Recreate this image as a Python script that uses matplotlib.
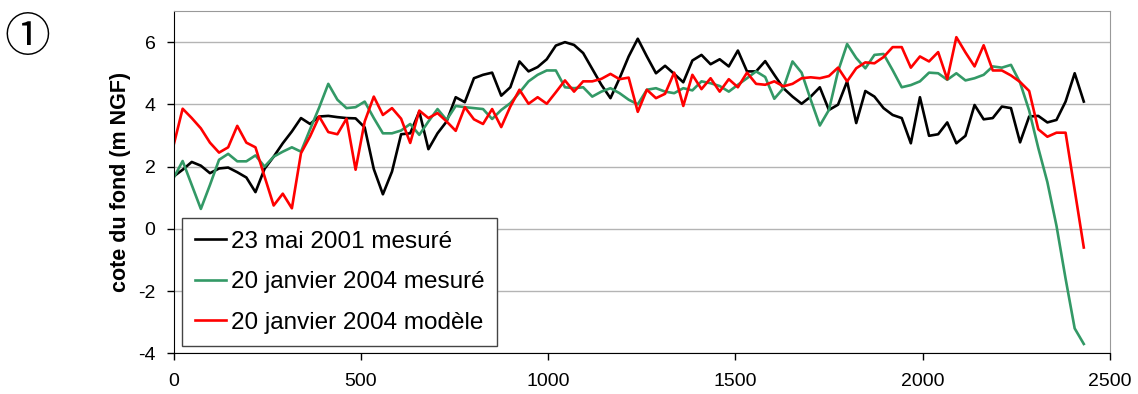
import numpy as np
import matplotlib
matplotlib.use('Agg')
import matplotlib.pyplot as plt

plt.rcParams['font.family'] = ['Liberation Sans', 'DejaVu Sans']
plt.rcParams['axes.unicode_minus'] = False

# distance le long du profil (m), un point tous les ~24 m
distance = np.arange(101) * 24.3

# cote du fond (m NGF)
mai_2001 = [1.68, 1.90, 2.15, 2.03, 1.79, 1.94, 1.97, 1.82, 1.65, 1.18,
            1.93, 2.32, 2.75, 3.13, 3.56, 3.37, 3.61, 3.63, 3.59, 3.56,
            3.55, 3.26, 1.92, 1.11, 1.84, 3.04, 3.07, 3.77, 2.56, 3.07,
            3.45, 4.23, 4.07, 4.84, 4.95, 5.02, 4.28, 4.55, 5.38, 5.06,
            5.20, 5.45, 5.89, 6.00, 5.91, 5.65, 5.14, 4.63, 4.20, 4.84,
            5.54, 6.11, 5.54, 5.00, 5.24, 4.98, 4.71, 5.41, 5.59, 5.29,
            5.45, 5.22, 5.73, 5.06, 5.06, 5.39, 4.95, 4.52, 4.25, 4.02,
            4.25, 4.55, 3.82, 3.99, 4.74, 3.40, 4.43, 4.25, 3.88, 3.66,
            3.56, 2.75, 4.23, 2.99, 3.04, 3.42, 2.75, 2.99, 3.98, 3.52,
            3.56, 3.93, 3.88, 2.78, 3.61, 3.63, 3.42, 3.50, 4.09, 5.00,
            4.09]

janv_2004 = [1.63, 2.18, 1.41, 0.64, 1.41, 2.22, 2.41, 2.17, 2.17, 2.36,
             2.00, 2.32, 2.48, 2.62, 2.48, 3.20, 3.90, 4.66, 4.15, 3.88,
             3.91, 4.09, 3.56, 3.07, 3.07, 3.16, 3.37, 3.02, 3.45, 3.85,
             3.50, 3.95, 3.91, 3.88, 3.85, 3.53, 3.82, 4.04, 4.38, 4.74,
             4.95, 5.09, 5.09, 4.55, 4.52, 4.55, 4.25, 4.41, 4.52, 4.36,
             4.15, 4.00, 4.47, 4.52, 4.41, 4.36, 4.52, 4.45, 4.74, 4.68,
             4.59, 4.41, 4.63, 4.84, 5.06, 4.88, 4.18, 4.52, 5.38, 5.02,
             4.15, 3.32, 3.82, 5.06, 5.94, 5.49, 5.16, 5.59, 5.62, 5.10,
             4.55, 4.62, 4.74, 5.02, 5.00, 4.79, 5.00, 4.77, 4.84, 4.95,
             5.22, 5.18, 5.27, 4.70, 3.80, 2.60, 1.50, 0.10, -1.60, -3.20,
             -3.70]

modele_2004 = [2.68, 3.86, 3.56, 3.23, 2.77, 2.45, 2.62, 3.31, 2.77, 2.62,
               1.68, 0.75, 1.13, 0.66, 2.43, 2.97, 3.61, 3.11, 3.04, 3.54,
               1.90, 3.45, 4.25, 3.66, 3.88, 3.54, 2.76, 3.80, 3.56, 3.72,
               3.45, 3.15, 3.91, 3.52, 3.37, 3.85, 3.27, 3.93, 4.47, 4.02,
               4.23, 4.02, 4.39, 4.77, 4.41, 4.74, 4.74, 4.82, 4.98, 4.81,
               4.86, 3.76, 4.47, 4.20, 4.34, 5.02, 3.95, 4.95, 4.49, 4.84,
               4.41, 4.81, 4.55, 5.02, 4.66, 4.63, 4.74, 4.58, 4.66, 4.84,
               4.87, 4.84, 4.91, 5.18, 4.74, 5.16, 5.35, 5.32, 5.52, 5.84,
               5.84, 5.18, 5.54, 5.38, 5.68, 4.81, 6.16, 5.67, 5.22, 5.90,
               5.09, 5.09, 4.93, 4.72, 4.43, 3.20, 2.96, 3.09, 3.09, 1.25,
               -0.60]

labels = ['23 mai 2001 mesuré', '20 janvier 2004 mesuré', '20 janvier 2004 modèle']
couleurs = ['black', '#339966', '#ff0000']

fig = plt.figure(figsize=(11.38, 3.94), dpi=100)
ax = fig.add_axes([0.1525, 0.1033, 0.8229, 0.8687])

for serie, lab, c in zip([mai_2001, janv_2004, modele_2004], labels, couleurs):
    ax.plot(distance, serie, color=c, lw=1.9, label=lab)

ax.set_xlim(0, 2500)
ax.set_ylim(-4, 7)
ax.set_xticks(np.arange(0, 2501, 500))
ax.set_yticks(np.arange(-4, 7, 2))
ax.grid(axis='y', color='#b4b4b4', lw=1.0)
ax.set_axisbelow(True)
for s in ['top', 'right']:
    ax.spines[s].set_color('#999999')
for s in ['left', 'bottom']:
    ax.spines[s].set_color('black')
ax.tick_params(axis='both', labelsize=14, length=5, direction='out', width=1)
ax.tick_params(axis='y', pad=8)
ax.tick_params(axis='x', pad=9.5)

ax.set_ylabel('cote du fond (m NGF)', fontsize=15.5, fontweight='bold', labelpad=5)

leg = ax.legend(loc='lower left', bbox_to_anchor=(0.0094, 0.022), borderaxespad=0,
                fontsize=17.5, fancybox=False, edgecolor='#444444', framealpha=1,
                handlelength=1.28, handletextpad=0.22, labelspacing=0.76, borderpad=0.5)
leg.get_frame().set_linewidth(1.0)

fig.text(0.024, 0.905, '\u2460', fontsize=33, ha='center', va='center',
         family=['Noto Sans CJK JP', 'DejaVu Sans'])

plt.savefig('out.png', dpi=100)
